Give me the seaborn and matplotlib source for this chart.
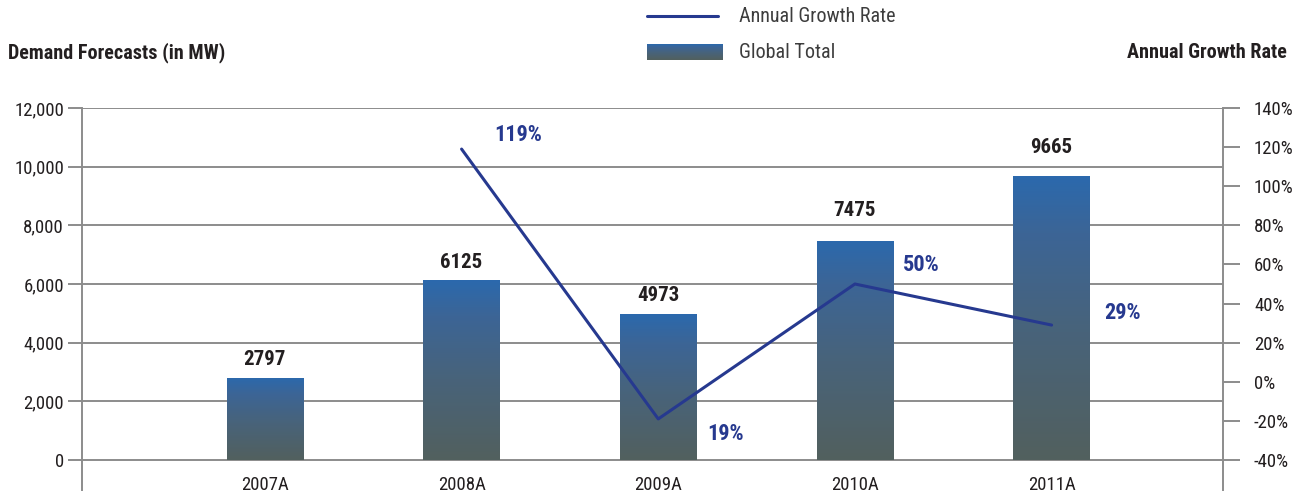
import numpy as np
import pandas as pd
import matplotlib
matplotlib.use("Agg")
import matplotlib.pyplot as plt
import seaborn as sns
from matplotlib import font_manager
from matplotlib.colors import LinearSegmentedColormap
from matplotlib.lines import Line2D
from matplotlib.ticker import FuncFormatter

# ---- data ----
years = ["2007A", "2008A", "2009A", "2010A", "2011A"]
global_total = [2797, 6125, 4973, 7475, 9665]
growth_years = ["2008A", "2009A", "2010A", "2011A"]
growth_rate = [119, -19, 50, 29]
left_ticks = [0, 2000, 4000, 6000, 8000, 10000, 12000]
right_ticks = [-40, -20, 0, 20, 40, 60, 80, 100, 120, 140]

# ---- style ----
sns.set_style("white")
available = {f.name for f in font_manager.fontManager.ttflist}
condensed_choices = ["Roboto Condensed", "Archivo Narrow", "PT Sans Narrow",
                     "IBM Plex Sans Condensed", "Liberation Sans Narrow",
                     "Liberation Sans"]
base_font = next(f for f in condensed_choices if f in available or f == "Liberation Sans")
plt.rcParams["font.family"] = [base_font, "DejaVu Sans"]

GRID = "#8c8c8c"
TEXT = "#231f20"
LINE = "#26398f"
bar_cmap = LinearSegmentedColormap.from_list(
    "bar_grad",
    [(0.0, "#52605e"), (0.45, "#48637a"), (0.8, "#3c6596"), (1.0, "#2b69ad")],
)

W, H = 1307, 497
fig = plt.figure(figsize=(W / 100, H / 100), dpi=100)
ax = fig.add_axes([82 / W, 1 - 490 / H, (1222.7 - 82) / W, (490 - 108) / H])

df = pd.DataFrame({"year": years, "total": global_total})
sns.barplot(data=df, x="year", y="total", width=0.39, color="#3a6596",
            ax=ax, zorder=2)

# vertical gradient fill inside each bar
grad = np.linspace(0, 1, 256).reshape(-1, 1)
for patch in ax.patches:
    x0, w, h = patch.get_x(), patch.get_width(), patch.get_height()
    img = ax.imshow(grad, extent=[x0, x0 + w, 0, h], origin="lower",
                    cmap=bar_cmap, aspect="auto", zorder=2)
    img.set_clip_path(patch)
    patch.set_facecolor("none")
    patch.set_edgecolor("none")

# value labels above bars
value_label_offsets = [18, 18, 19, 30, 29]
for patch, val, off in zip(ax.patches, global_total, value_label_offsets):
    ax.annotate(f"{val}", (patch.get_x() + patch.get_width() / 2, val),
                xytext=(0, off), textcoords="offset pixels",
                ha="center", va="center", fontsize=15, fontweight="bold",
                color=TEXT, zorder=5)

ax.set_xlim(-0.93, 4.87)
ax.set_ylim(-1023, 12000)
ax.set_yticks(left_ticks)
ax.yaxis.set_major_formatter(FuncFormatter(lambda v, p: f"{int(v):,}"))
ax.yaxis.grid(True, color=GRID, linewidth=1.4)
ax.set_axisbelow(True)
ax.tick_params(axis="y", length=10, width=1.4, color=GRID, pad=3,
               labelsize=13.5, labelcolor=TEXT, left=True)
ax.tick_params(axis="x", length=0, labelbottom=False)
ax.set_xlabel("")
ax.set_ylabel("")
for side in ["top", "right", "bottom"]:
    ax.spines[side].set_visible(False)
ax.spines["left"].set_color(GRID)
ax.spines["left"].set_linewidth(1.4)

# category labels sitting just above the bottom of the axes
for i, name in enumerate(years):
    ax.text(i, 0.013, name, transform=ax.get_xaxis_transform(),
            ha="center", va="center", fontsize=13.5, color=TEXT)

# growth rate on the secondary axis
ax2 = ax.twinx()
growth_pos = [years.index(y) for y in growth_years]
sns.lineplot(x=growth_pos, y=growth_rate, color=LINE, linewidth=2.2,
             ax=ax2, zorder=3)
ax2.set_ylim(-55.34, 140)
ax2.set_yticks(right_ticks)
ax2.yaxis.set_major_formatter(FuncFormatter(lambda v, p: f"{int(v)}%"))
ax2.tick_params(axis="y", length=12, width=1.4, color=GRID, pad=10.5,
                labelsize=13.5, labelcolor=TEXT, right=True)
ax2.set_ylabel("")
for side in ["top", "left", "bottom"]:
    ax2.spines[side].set_visible(False)
ax2.spines["right"].set_color(GRID)
ax2.spines["right"].set_linewidth(1.4)

growth_label_offsets = [(57, 14), (67, -15), (66, 19), (71, 12)]
for xp, val, (dx, dy) in zip(growth_pos, growth_rate, growth_label_offsets):
    ax2.annotate(f"{abs(val)}%", (xp, val), xytext=(dx, dy),
                 textcoords="offset pixels", ha="center", va="center",
                 fontsize=16, fontweight="bold", color=LINE)

# headers
fig.text(8 / W, 1 - 53 / H, "Demand Forecasts (in MW)", ha="left", va="center",
         fontsize=14.5, fontweight="bold", color=TEXT)
fig.text(1287 / W, 1 - 53 / H, "Annual Growth Rate", ha="right", va="center",
         fontsize=14.5, fontweight="bold", color=TEXT)

# legend
fig.add_artist(Line2D([647 / W, 718 / W], [1 - 16 / H, 1 - 16 / H],
                      color=LINE, linewidth=2.2))
leg_ax = fig.add_axes([647 / W, 1 - 60 / H, 76 / W, 16 / H])
leg_ax.imshow(grad, origin="lower", cmap=bar_cmap, aspect="auto")
leg_ax.axis("off")
fig.text(739 / W, 1 - 16 / H, "Annual Growth Rate", ha="left", va="center",
         fontsize=14.5, color="#3d3d3d")
fig.text(739 / W, 1 - 52 / H, "Global Total", ha="left", va="center",
         fontsize=14.5, color="#3d3d3d")

fig.savefig("out.png", dpi=100)
